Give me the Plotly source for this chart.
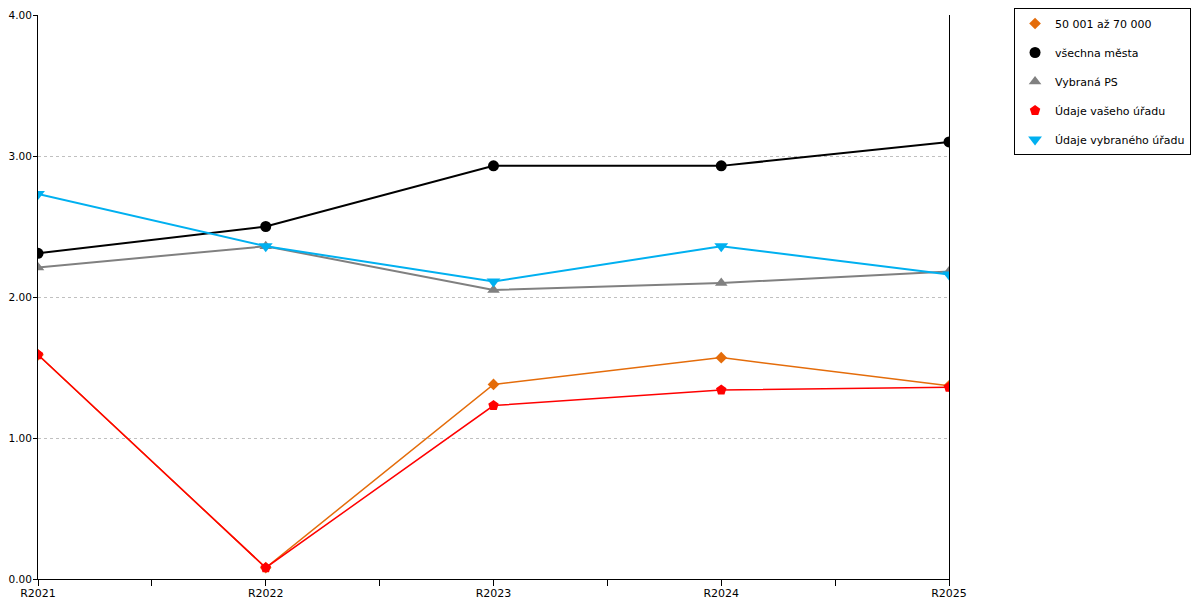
import plotly.graph_objects as go

years = ['R2021', 'R2022', 'R2023', 'R2024', 'R2025']

cat_50_70 = [1.59, 0.08, 1.38, 1.57, 1.37]
vsechna_mesta = [2.31, 2.50, 2.93, 2.93, 3.10]
vybrana_ps = [2.21, 2.36, 2.05, 2.10, 2.18]
vas_urad = [1.59, 0.08, 1.23, 1.34, 1.36]
vybrany_urad = [2.73, 2.36, 2.11, 2.36, 2.16]

y_ticks = [0, 1, 2, 3, 4]

series = [
    ('50 001 až 70 000', cat_50_70, '#E46C0A', 'diamond', 9, 1.5),
    ('všechna města', vsechna_mesta, '#000000', 'circle', 11, 2),
    ('Vybraná PS', vybrana_ps, '#808080', 'triangle-up', 11, 2),
    ('Údaje vašeho úřadu', vas_urad, '#FF0000', 'pentagon', 11, 1.5),
    ('Údaje vybraného úřadu', vybrany_urad, '#00B0F0', 'triangle-down', 12, 2),
]

# numeric positions so the minor ticks can sit between the years
xpos = list(range(len(years)))
tickvals = [i / 2 for i in range(2 * len(years) - 1)]
ticktext = [years[i // 2] if i % 2 == 0 else '' for i in range(len(tickvals))]

fig = go.Figure()
for name, vals, color, symbol, size, width in series:
    fig.add_trace(go.Scatter(
        x=xpos, y=vals, mode='lines+markers', name=name,
        line=dict(color=color, width=width),
        marker=dict(symbol=symbol, size=size, color=color),
        showlegend=False,
    ))
# legend entries show the marker only
for name, vals, color, symbol, size, width in series:
    fig.add_trace(go.Scatter(
        x=[None], y=[None], mode='markers', name=name,
        marker=dict(symbol=symbol, size=size, color=color),
        legendgroup=name,
    ))

fig.update_xaxes(
    range=[0, len(years) - 1],
    tickvals=tickvals, ticktext=ticktext,
    ticks='outside', ticklen=6, tickcolor='black',
    ticklabelstandoff=-2, ticklabeloverflow='allow',
    showline=True, linecolor='black', linewidth=1,
    showgrid=False, zeroline=False, automargin=False,
)
fig.update_yaxes(
    range=[0, 4], tickvals=y_ticks, tickformat='.2f',
    ticks='outside', ticklen=4, tickcolor='black',
    tickfont=dict(size=10.5), ticklabelstandoff=-1, ticklabeloverflow='allow',
    showline=True, linecolor='black', linewidth=1, mirror=True,
    showgrid=True, gridcolor='#c0c0c0', griddash='dot', gridwidth=1,
    zeroline=False, automargin=False,
)
fig.update_layout(
    width=1192, height=592,
    margin=dict(l=30, r=251, t=7, b=21, autoexpand=False),
    paper_bgcolor='white', plot_bgcolor='white',
    font=dict(family='DejaVu Sans', size=11, color='black'),
    legend=dict(
        x=1.0714, y=1.0124, xanchor='left', yanchor='top',
        bordercolor='black', borderwidth=1,
        font=dict(size=11), tracegroupgap=10,
    ),
)
fig.write_html('out.html')
